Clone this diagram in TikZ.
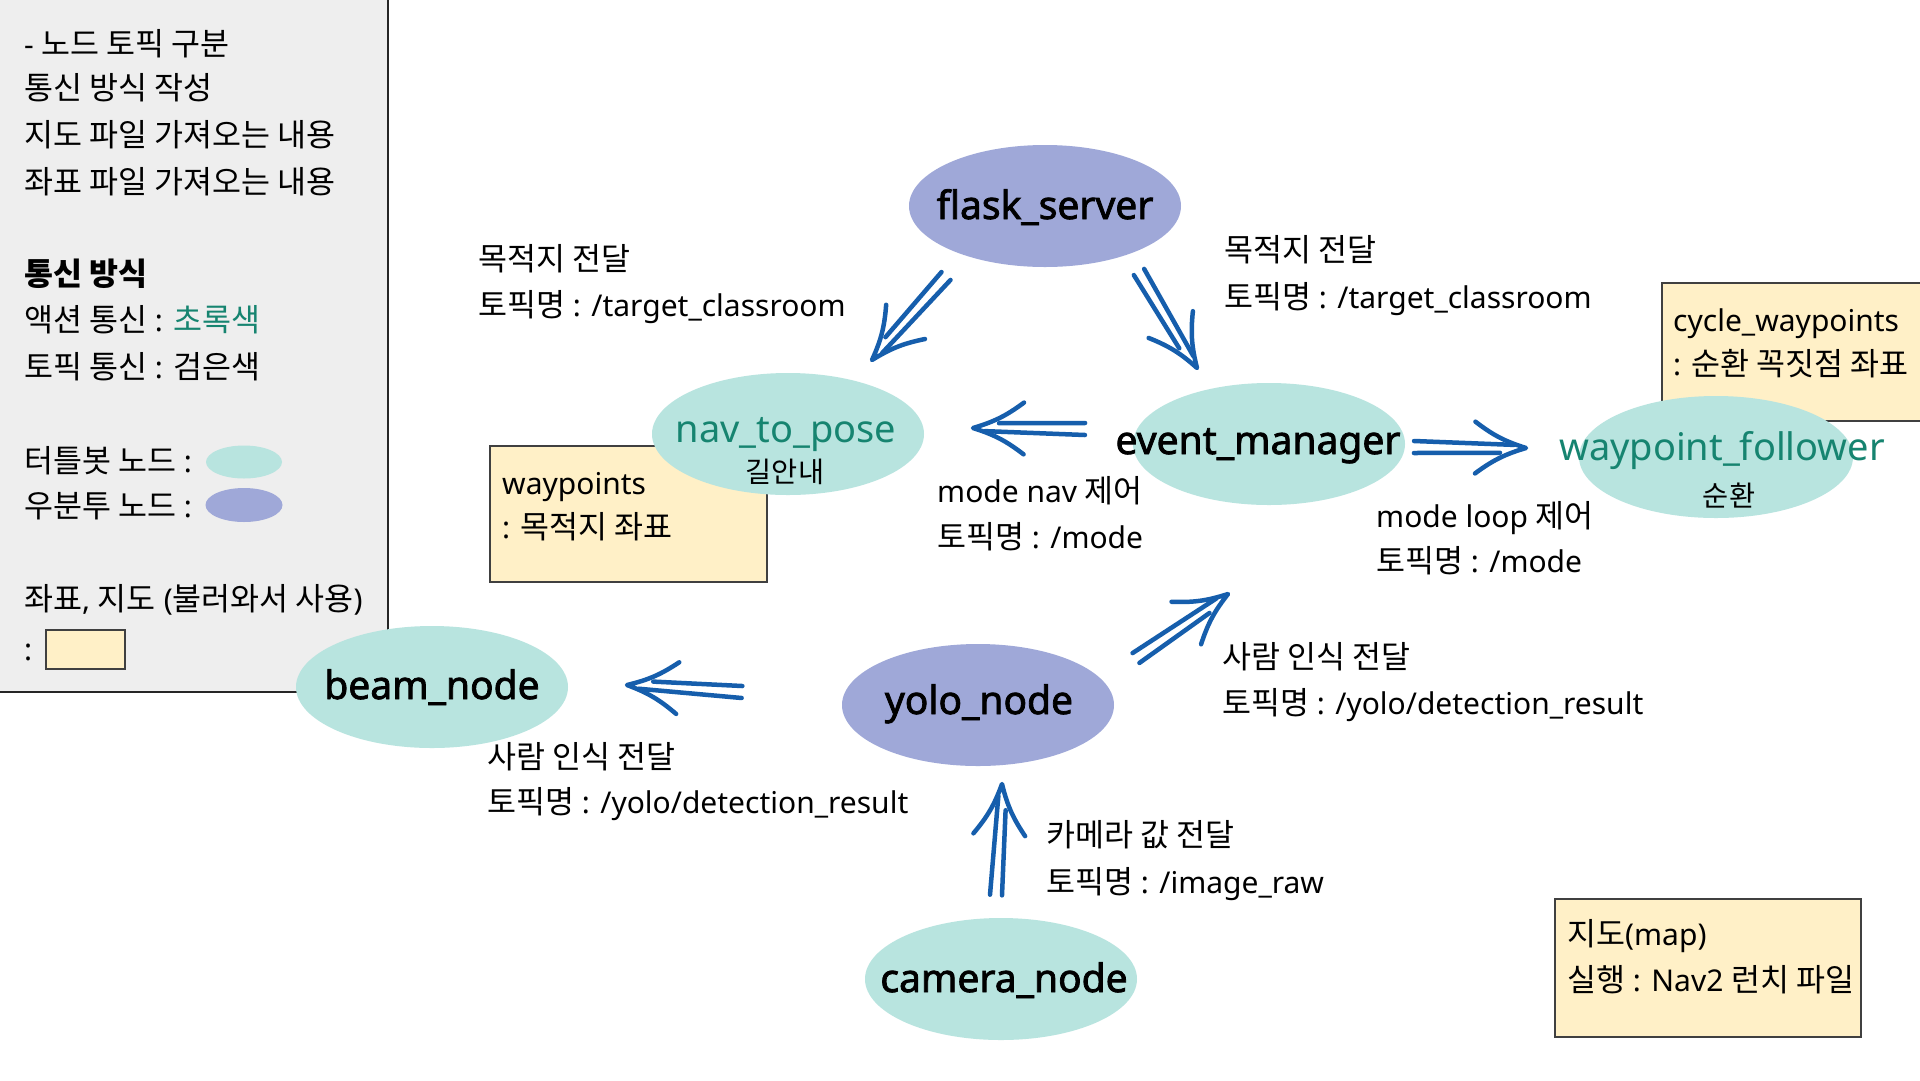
\documentclass[tikz,border=0pt]{standalone}
\usepackage{fontspec}
\setmainfont{Noto Sans}
\newfontfamily\kr{Noto Sans CJK KR}[Scale=1.05]
\newfontfamily\nodefont{Noto Sans}[FakeBold=2]
\usetikzlibrary{calc,shapes.geometric}
\definecolor{tealfill}{RGB}{184,228,223}
\definecolor{purpfill}{RGB}{159,168,216}
\definecolor{tealtext}{RGB}{22,132,112}
\definecolor{notefill}{RGB}{255,240,199}
\definecolor{panelbg}{RGB}{238,238,238}
\definecolor{arrowblue}{RGB}{22,94,172}
\tikzset{
  ell/.style={ellipse, minimum width=272pt, minimum height=122pt, inner sep=0pt},
  tb/.style={ell, fill=tealfill},
  ub/.style={ell, fill=purpfill},
  ntext/.style={anchor=base, inner sep=0pt, font=\nodefont\fontsize{39}{46}\selectfont},
  gtext/.style={anchor=base, inner sep=0pt, text=tealtext, font=\fontsize{38}{46}\selectfont},
  subtext/.style={anchor=base, inner sep=0pt, font=\kr\fontsize{27}{34}\selectfont},
  lbl/.style={anchor=base west, inner sep=0pt, font=\fontsize{30}{44}\selectfont},
  harr/.style={draw=arrowblue, line width=4.5pt, line cap=round, line join=round},
  note/.style={draw=black!75, line width=1.2pt, fill=notefill},
}
\newcommand\harrow[3]{%
  \coordinate (#1T) at (#2);
  \coordinate (#1H) at (#3);
  \coordinate (#1P) at ($(#1H)!12pt!(#1T)$);
  \coordinate (#1Q) at ($(#1H)!26pt!(#1T)$);
  \draw[harr] ($(#1T)!6pt!90:(#1H)$) -- ($(#1P)!3pt!-90:(#1T)$);
  \draw[harr] ($(#1T)!6pt!-90:(#1H)$) -- ($(#1Q)!5pt!90:(#1T)$);
  \draw[harr] ($(#1H)!57pt!27:(#1T)$) to[bend left=10] (#1H) to[bend left=10] ($(#1H)!57pt!-27:(#1T)$);
}
\begin{document}
\begin{tikzpicture}[x=1pt,y=-1pt]
\useasboundingbox (0,0) rectangle (1920,1080);
\fill[white] (0,0) rectangle (1920,1080);
% legend panel
\fill[panelbg] (0,0) rectangle (388,692);
\draw[black!85, line width=1.2pt] (388,0) -- (388,692) -- (0,692);
\node[lbl] (p1) at (24,55) {- {\kr 노드 토픽 구분}};
\node[lbl] (p2) at (24,99) {\kr 통신 방식 작성};
\node[lbl] (p3) at (24,146) {\kr 지도 파일 가져오는 내용};
\node[lbl] (p4) at (24,193) {\kr 좌표 파일 가져오는 내용};
\node[lbl] (p5) at (24,285) {\kr\bfseries 통신 방식};
\node[lbl] (p6) at (24,331) {{\kr 액션 통신} : {\kr\color{tealtext}초록색}};
\node[lbl] (p7) at (24,378) {{\kr 토픽 통신} : {\kr 검은색}};
\node[lbl] (p8) at (24,472) {{\kr 터틀봇 노드} :};
\node[lbl] (p9) at (24,517) {{\kr 우분투 노드} :};
\node[lbl] (p10) at (24,610) {{\kr 좌표}, {\kr 지도} ({\kr 불러와서 사용})};
\node[lbl] (p11) at (24,660) {:};
\node[ellipse, fill=tealfill, minimum width=76pt, minimum height=33pt, inner sep=0pt] (legT) at (244,462) {};
\node[ellipse, fill=purpfill, minimum width=77pt, minimum height=34pt, inner sep=0pt] (legU) at (244,505) {};
\node[note, minimum width=79pt, minimum height=39pt, inner sep=0pt] (legN) at (85.5,649.5) {};
% note boxes
\node[note, minimum width=277pt, minimum height=136pt, inner sep=0pt] (wpbox) at (628.5,514) {};
\node[note, minimum width=270pt, minimum height=138pt, inner sep=0pt] (cybox) at (1797,352) {};
\node[note, minimum width=306pt, minimum height=138pt, inner sep=0pt] (mapbox) at (1708,968) {};
\node[lbl] (wp1) at (502,494) {waypoints};
\node[lbl] (wp2) at (502,538) {: {\kr 목적지 좌표}};
\node[lbl] (cy1) at (1673,331) {cycle\_waypoints};
\node[lbl] (cy2) at (1673,375) {: {\kr 순환 꼭짓점 좌표}};
\node[lbl] (mp1) at (1567,945) {{\kr 지도}(map)};
\node[lbl] (mp2) at (1567,991) {{\kr 실행} : Nav2 {\kr 런치 파일}};
% nodes
\node[ub] (flask) at (1045,206) {};
\node[ntext] (flaskT) at (1045,219) {flask\_server};
\node[tb] (nav) at (788,434) {};
\node[gtext] (navT) at (786,442) {nav\_to\_pose};
\node[subtext] (navS) at (785,482) {길안내};
\node[tb] (event) at (1269,444) {};
\node[ntext] (eventT) at (1258,454) {event\_manager};
\node[tb, minimum width=274pt] (wpf) at (1716,457) {};
\node[gtext] (wpfT) at (1722,460) {waypoint\_follower};
\node[subtext] (wpfS) at (1729,506) {순환};
\node[tb] (beam) at (432,687) {};
\node[ntext] (beamT) at (432,699) {beam\_node};
\node[ub] (yolo) at (978,705) {};
\node[ntext] (yoloT) at (979,714) {yolo\_node};
\node[tb] (camera) at (1001,979) {};
\node[ntext] (cameraT) at (1004,992) {camera\_node};
% labels
\node[lbl] (l1a) at (478,270) {\kr 목적지 전달};
\node[lbl] (l1b) at (478,316) {{\kr 토픽명} : /target\_classroom};
\node[lbl] (l2a) at (1224,261) {\kr 목적지 전달};
\node[lbl] (l2b) at (1224,308) {{\kr 토픽명} : /target\_classroom};
\node[lbl] (l3a) at (937,502) {mode nav {\kr 제어}};
\node[lbl] (l3b) at (937,548) {{\kr 토픽명} : /mode};
\node[lbl] (l4a) at (1376,527) {mode loop {\kr 제어}};
\node[lbl] (l4b) at (1376,572) {{\kr 토픽명} : /mode};
\node[lbl] (l5a) at (1222,668) {\kr 사람 인식 전달};
\node[lbl] (l5b) at (1222,714) {{\kr 토픽명} : /yolo/detection\_result};
\node[lbl] (l6a) at (487,768) {\kr 사람 인식 전달};
\node[lbl] (l6b) at (487,813) {{\kr 토픽명} : /yolo/detection\_result};
\node[lbl] (l7a) at (1046,846) {{\kr 카메라 값 전달}};
\node[lbl] (l7b) at (1046,893) {{\kr 토픽명} : /image\_raw};
% arrows
\harrow{aA}{946,276}{872,360}
\harrow{aB}{1139,272}{1197,368}
\harrow{aC}{1085,429}{973,428}
\harrow{aD}{1414,447}{1526,448}
\harrow{aE}{742,692}{627,685}
\harrow{aF}{996,895}{1002,784}
\harrow{aG}{1136,658}{1228,594}
\end{tikzpicture}
\end{document}
